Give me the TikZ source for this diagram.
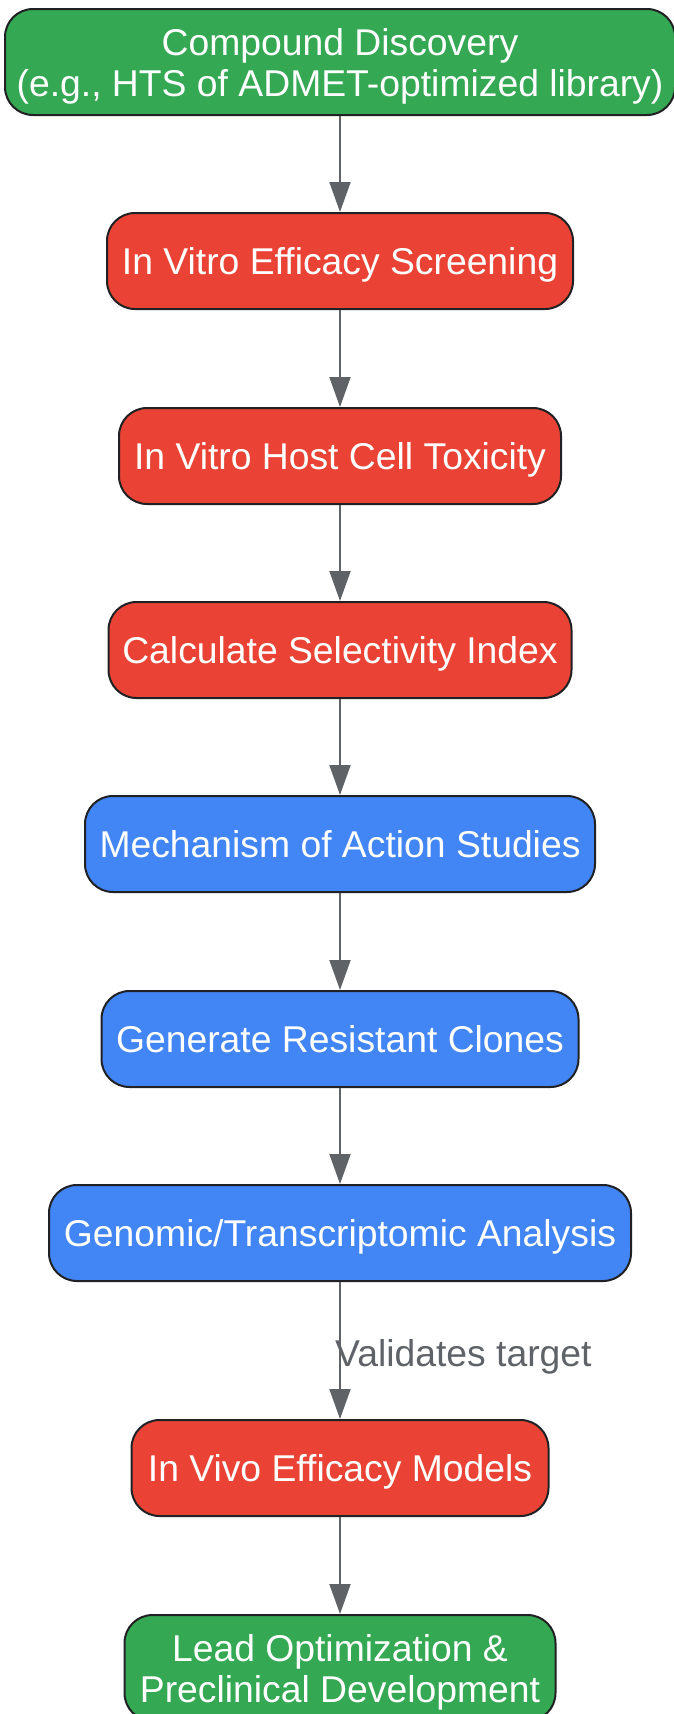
\documentclass[tikz,border=0pt]{standalone}
\usepackage{fontspec}
\setmainfont{Liberation Sans}
\usetikzlibrary{arrows.meta}
\definecolor{gGreen}{HTML}{34A853}
\definecolor{gRed}{HTML}{EA4335}
\definecolor{gBlue}{HTML}{4285F4}
\definecolor{arrowgray}{HTML}{5F6368}
\definecolor{boxline}{HTML}{202124}
\begin{document}
\begin{tikzpicture}[x=1pt,y=-1pt,
  box/.style={draw=boxline, line width=2pt, rounded corners=28pt, minimum height=96pt,
    inner sep=0pt, text=white, font=\fontsize{37.3}{41}\selectfont, align=center, text depth=0pt},
  greenbox/.style={box, fill=gGreen},
  redbox/.style={box, fill=gRed},
  bluebox/.style={box, fill=gBlue},
  flow/.style={draw=arrowgray, line width=2pt, -{Triangle[length=30pt,width=21pt]}},
  lbl/.style={text=arrowgray, font=\fontsize{37.3}{41}\selectfont, inner sep=0pt}]
\useasboundingbox (0,0) rectangle (674,1714);
\node[greenbox, minimum width=670pt, minimum height=106pt] (n1) at (340,62) {Compound Discovery\\(e.g., HTS of ADMET-optimized library)};
\node[redbox, minimum width=466pt] (n2) at (340,261) {In Vitro Efficacy Screening};
\node[redbox, minimum width=442pt] (n3) at (340,456) {In Vitro Host Cell Toxicity};
\node[redbox, minimum width=463pt] (n4) at (340,650) {Calculate Selectivity Index};
\node[bluebox, minimum width=510pt] (n5) at (340,844) {Mechanism of Action Studies};
\node[bluebox, minimum width=477pt] (n6) at (340,1039) {Generate Resistant Clones};
\node[bluebox, minimum width=582pt] (n7) at (340,1233) {Genomic/Transcriptomic Analysis};
\node[redbox, minimum width=417pt] (n8) at (340,1468) {In Vivo Efficacy Models};
\node[greenbox, minimum width=431pt, minimum height=106pt] (n9) at (340,1668) {Lead Optimization \&\\Preclinical Development};
\draw[flow] (n1) -- (n2);
\draw[flow] (n2) -- (n3);
\draw[flow] (n3) -- (n4);
\draw[flow] (n4) -- (n5);
\draw[flow] (n5) -- (n6);
\draw[flow] (n6) -- (n7);
\draw[flow] (n7) -- (n8);
\draw[flow] (n8) -- (n9);
\node[lbl, anchor=west] (lab) at (335,1357) {Validates target};
\end{tikzpicture}
\end{document}
